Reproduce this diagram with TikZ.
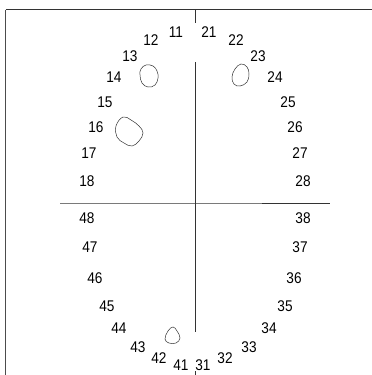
\documentclass[tikz,border=0pt]{standalone}
\usepackage{fontspec}
\setmainfont{Liberation Sans}
\usepackage{tikz}
\usetikzlibrary{calc}

\newcommand{\toothno}[1]{\scalebox{0.88}[1]{#1}}

\begin{document}
\begin{tikzpicture}[
			x=1pt,
			y=-1pt,
			every node/.style={
					inner sep=0pt,
					text=black,
					font=\fontsize{15.5}{17}\selectfont
				},
			frame/.style={gray!60!black, line width=1.3pt},
			axis/.style={black!80, line width=0.6pt},
			lesion/.style={black!80, line width=0.5pt}
		]
		\useasboundingbox (0,0) rectangle (372,375);

		% upper jaw, right side of patient
		\node (t11) at (176, 32) {\toothno{11}};
		\node (t12) at (151, 40) {\toothno{12}};
		\node (t13) at (130, 56) {\toothno{13}};
		\node (t14) at (114, 77) {\toothno{14}};
		\node (t15) at (105, 102) {\toothno{15}};
		\node (t16) at (96, 127) {\toothno{16}};
		\node (t17) at (89, 153) {\toothno{17}};
		\node (t18) at (87, 181) {\toothno{18}};

		% upper jaw, left side of patient
		\node (t21) at (209, 32) {\toothno{21}};
		\node (t22) at (236, 40) {\toothno{22}};
		\node (t23) at (258, 56) {\toothno{23}};
		\node (t24) at (275, 77) {\toothno{24}};
		\node (t25) at (288, 102) {\toothno{25}};
		\node (t26) at (295, 127) {\toothno{26}};
		\node (t27) at (300, 153) {\toothno{27}};
		\node (t28) at (303, 181) {\toothno{28}};

		% lower jaw
		\node (t38) at (303, 218) {\toothno{38}};
		\node (t37) at (300, 247) {\toothno{37}};
		\node (t36) at (294, 278) {\toothno{36}};
		\node (t35) at (285, 306) {\toothno{35}};
		\node (t34) at (269, 328) {\toothno{34}};
		\node (t33) at (249, 347) {\toothno{33}};
		\node (t32) at (225, 358) {\toothno{32}};
		\node (t31) at (203, 365) {\toothno{31}};

		\node (t48) at (87, 218) {\toothno{48}};
		\node (t47) at (90, 247) {\toothno{47}};
		\node (t46) at (95, 278) {\toothno{46}};
		\node (t45) at (107, 306) {\toothno{45}};
		\node (t44) at (119, 328) {\toothno{44}};
		\node (t43) at (138, 347) {\toothno{43}};
		\node (t42) at (159, 358) {\toothno{42}};
		\node (t41) at (181, 365) {\toothno{41}};

		% frame
		\coordinate (topleft) at (5.5, 9.5);
		\draw[frame] (5.5, 375) -- (topleft);
		\draw[axis, line width=0.9pt] (topleft) -- (372, 9.5);

		% midlines
		\coordinate (mid) at (195.5, 203);
		\draw[axis] (195.5, 9.5) -- (195.5, 23);
		\draw[axis] (195.5, 62) -- (mid) -- (195.5, 332);
		\draw[axis] (195.5, 371) -- (195.5, 375);
		\draw[axis] (60, 203) -- (mid) -- (330, 203);

		% lesions
		\draw[lesion] plot[smooth cycle, tension=0.7] coordinates {
			(146,65) (153,66) (157,71) (158,78) (155,85) (148,87) (142,83) (140,75) (141,69)};
		\draw[lesion] plot[smooth cycle, tension=0.7] coordinates {
			(241,64) (247,67) (249,74) (247,82) (240,86) (234,84) (232,77) (235,69)};
		\draw[lesion] plot[smooth cycle, tension=0.7] coordinates {
			(123,117) (131,120) (139,126) (143,133) (139,141) (132,146) (124,143) (117,137) (116,126)};
		\draw[lesion] plot[smooth cycle, tension=0.7] coordinates {
			(173,327) (177,331) (180,338) (176,343) (169,343) (165,339) (168,331)};

	\end{tikzpicture}
\end{document}
